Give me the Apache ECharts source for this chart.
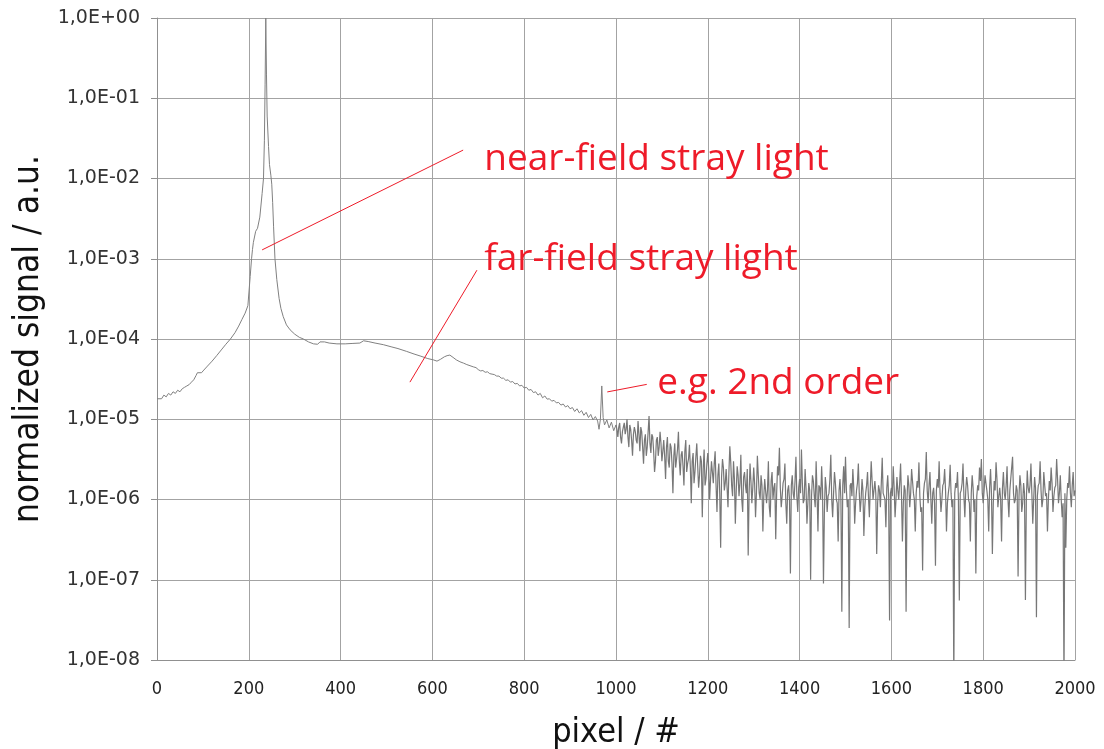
<!DOCTYPE html>
<html>
<head>
<meta charset="utf-8">
<script src="https://cdn.jsdelivr.net/npm/echarts@6/dist/echarts.min.js"></script>
<style>html,body{margin:0;padding:0;background:#fff;overflow:hidden}#c{width:1104px;height:749px}</style>
</head>
<body>
<div id="c"></div>
<script>
// ---- data: [pixel, normalized signal] ----
const nearField = [
[0,1.8e-5],[10,1.8e-5],[15,2.0e-5],[20,1.9e-5],[25,2.1e-5],[30,2.0e-5],[35,2.2e-5],[40,2.1e-5],
[45,2.3e-5],[50,2.2e-5],[55,2.4e-5],[60,2.5e-5],[65,2.6e-5],[70,2.7e-5],[75,2.9e-5],[80,3.1e-5],
[85,3.5e-5],[88,3.8e-5],[92,3.6e-5],[97,3.8e-5],[102,4.1e-5],[110,4.6e-5],[120,5.3e-5],[130,6.2e-5],
[140,7.3e-5],[150,8.6e-5],[160,1.0e-4],[170,1.2e-4],[178,1.45e-4],[185,1.75e-4],[192,2.1e-4],
[198,2.6e-4],[203,6.0e-4],[206,1.0e-3],[208,1.3e-3],[210,1.6e-3],[215,2.2e-3],[219,2.4e-3],
[224,3.3e-3],[229,6.5e-3],[232,1.0e-2],[234,3.0e-2],[235.5,1.5e-1],[237,1.0],[238.5,2.0e-1],
[240,6.0e-2],[243,2.5e-2],[245,1.5e-2],[246,1.45e-2],[248,1.1e-2],[250,8.5e-3],[252,5.0e-3],
[254,2.5e-3],[257,1.0e-3],[261,5.5e-4],[266,3.2e-4],[270,2.4e-4],[275,1.9e-4],[282,1.5e-4],
[290,1.3e-4],[300,1.15e-4],[310,1.05e-4],[319,1.0e-4],[330,9.2e-5],[341,8.7e-5],[350,8.6e-5],
[355,9.2e-5],[359,9.6e-5],[365,9.2e-5],[375,8.9e-5],[392,8.7e-5],[410,8.7e-5],[425,8.8e-5],
[442,8.9e-5],[450,9.5e-5],[460,9.3e-5],[475,8.9e-5],[493,8.5e-5],[510,8.0e-5],[525,7.6e-5],
[544,7.0e-5],[560,6.5e-5],[575,6.1e-5],[590,5.7e-5],[602,5.5e-5],[610,5.3e-5],[618,5.6e-5],
[626,6.0e-5],[632,6.2e-5],[638,6.3e-5],[645,5.9e-5],[652,5.5e-5],[660,5.2e-5],[668,5.0e-5],
[675,4.8e-5],[689,4.5e-5],[695,4.4e-5]
];
const midRange = [
[700,4.15e-5],[705,4.0e-5],[710,4.05e-5],[715,3.85e-5],[720,3.9e-5],[725,3.7e-5],[730,3.65e-5],
[735,3.6e-5],[740,3.45e-5],[745,3.45e-5],[750,3.25e-5],[755,3.25e-5],[760,3.05e-5],[765,3.1e-5],
[770,2.9e-5],[775,2.95e-5],[780,2.75e-5],[785,2.8e-5],[790,2.6e-5],[795,2.65e-5],[800,2.45e-5],
[805,2.5e-5],[810,2.3e-5],[815,2.35e-5],[820,2.15e-5],[825,2.2e-5],[830,2.0e-5],[835,2.1e-5],
[840,1.85e-5],[845,1.95e-5],[850,1.78e-5],[855,1.8e-5],[860,1.68e-5],[865,1.72e-5],[870,1.6e-5],
[875,1.62e-5],[880,1.5e-5],[885,1.55e-5],[890,1.42e-5],[895,1.48e-5],[900,1.35e-5],[905,1.4e-5],
[910,1.25e-5],[915,1.35e-5],[920,1.2e-5],[925,1.28e-5],[930,1.12e-5],[935,1.22e-5],[940,1.05e-5],
[945,1.15e-5],[950,9.8e-6],[955,1.08e-5],[960,9.5e-6],[963,7.5e-6],[966,1.0e-5],[969,2.6e-5],
[972,1.05e-5],[975,8.5e-6],[980,9.8e-6],[985,7.8e-6],[990,9.2e-6],[995,7.2e-6],[1000,8.5e-6]
];
const noiseFloorA = [
[1000,8.5e-6],
[1004,6.0e-6],[1008,9.0e-6],[1012,5.0e-6],[1016,8.0e-6],[1020,6.5e-6],[1024,1.0e-5],[1028,4.5e-6],
[1032,7.5e-6],[1036,3.5e-6],[1040,8.0e-6],[1044,5.5e-6],[1048,9.5e-6],[1052,4.0e-6],[1056,7.0e-6],
[1060,2.8e-6],[1064,6.5e-6],[1068,4.5e-6],[1072,1.1e-5],[1076,3.8e-6],[1080,6.0e-6],[1084,2.2e-6],
[1088,5.5e-6],[1092,3.5e-6],[1096,7.0e-6],
[1100,3.0e-6],[1104,5.5e-6],[1108,1.8e-6],[1112,6.0e-6],[1116,2.5e-6],[1120,4.5e-6],[1124,1.2e-6],
[1128,5.0e-6],[1132,3.2e-6],[1136,7.0e-6],[1140,2.0e-6],[1144,4.0e-6],[1148,1.5e-6],[1152,5.5e-6],
[1156,2.8e-6],[1160,4.8e-6],[1164,9.0e-7],[1168,3.8e-6],[1172,2.2e-6],[1176,5.0e-6],[1180,1.4e-6],
[1184,3.5e-6],[1188,6.0e-7],[1192,4.2e-6],[1196,1.8e-6],
[1200,3.8e-6],[1204,1.0e-6],[1208,3.0e-6],[1212,1.6e-6],[1216,4.0e-6],[1220,7.0e-7],[1224,2.8e-6],
[1228,2.5e-7],[1232,3.2e-6],[1236,1.3e-6],[1240,2.4e-6],[1244,8.0e-7],[1248,4.6e-6],[1252,1.5e-6],
[1256,3.0e-6],[1260,5.0e-7],[1264,2.6e-6],[1268,1.1e-6],[1272,3.6e-6],[1276,7.0e-7],[1280,2.2e-6],
[1284,1.2e-6],[1288,2.0e-7],[1292,2.8e-6],[1296,9.0e-7],
[1300,2.5e-6],[1304,6.0e-7],[1308,3.5e-6],[1312,1.2e-6],[1316,2.0e-6],[1320,4.0e-7],[1324,1.8e-6],
[1328,9.0e-7],[1332,3.0e-6],[1336,6.0e-7],[1340,2.2e-6],[1344,1.4e-6],[1348,3.2e-7],[1352,2.6e-6],
[1356,4.4e-6],[1360,8.0e-7],[1364,1.6e-6],[1368,2.8e-6],[1372,5.0e-7],[1376,1.5e-6],[1380,1.2e-7],
[1384,2.0e-6],[1388,1.0e-6],[1392,3.4e-6],[1396,7.0e-7],
[1400,1.8e-6],[1404,4.2e-6],[1408,9.0e-7],[1412,2.4e-6],[1416,5.0e-7],[1420,1.6e-6],[1424,1.0e-7],
[1428,2.0e-6],[1432,1.1e-6],[1436,3.0e-6],[1440,4.0e-7],[1444,1.4e-6],[1448,2.6e-6],[1452,9.0e-8],
[1456,1.9e-6],[1460,7.0e-7],[1464,1.2e-6],[1468,3.6e-6],[1472,6.0e-7],[1476,2.2e-6],[1480,1.0e-6],
[1484,3.0e-7],[1488,1.8e-6],[1492,4.0e-8],[1496,2.6e-6],
[1500,3.4e-6],[1504,8.0e-7],[1508,2.5e-8],[1512,1.6e-6],[1516,2.4e-6],[1520,5.0e-7],[1524,1.3e-6],
[1528,2.8e-6],[1532,7.0e-7],[1536,1.8e-6],[1540,3.5e-7],[1544,1.2e-6],[1548,2.2e-6],[1552,6.0e-7],
[1556,3.0e-6],[1560,1.0e-6],[1564,1.7e-6],[1568,2.1e-7],[1572,1.5e-6],[1576,8.0e-7],[1580,3.3e-6],
[1584,1.1e-6],[1588,4.5e-7],[1592,2.0e-6],[1596,3.1e-8],
[1600,1.4e-6],[1604,2.6e-6],[1608,6.0e-7],[1612,1.9e-6],[1616,1.0e-6],[1620,2.8e-6],[1624,3.0e-7],
[1628,1.5e-6],[1632,4.0e-8],[1636,2.0e-6],[1640,8.0e-7],[1644,2.4e-6],[1648,1.2e-6],[1652,4.0e-7],
[1656,1.7e-6],[1660,2.9e-6],[1664,7.0e-7],[1668,1.3e-7],[1672,1.6e-6],[1676,3.9e-6],[1680,9.0e-7],
[1684,2.2e-6],[1688,5.0e-7],[1692,1.4e-6],[1696,1.5e-7],
[1700,1.8e-6],[1704,3.0e-6],[1708,7.0e-7],[1712,1.5e-6],[1716,2.4e-6],[1720,4.0e-7],[1724,1.2e-6],
[1728,2.7e-6],[1732,8.0e-7],[1736,5.0e-9],[1740,1.6e-6],[1744,2.2e-6],[1748,5.5e-8],[1752,1.3e-6],
[1756,2.8e-6],[1760,6.0e-7],[1764,1.9e-6],[1768,1.0e-6],[1772,3.0e-7],[1776,2.0e-6],[1780,7.0e-7],
[1784,1.2e-7],[1788,1.5e-6],[1792,2.5e-6],[1796,3.2e-6],
[1800,9.0e-7],[1804,2.0e-6],[1808,1.3e-6],[1812,4.0e-7],[1816,2.4e-6],[1820,2.1e-7],[1824,1.7e-6],
[1828,2.9e-6],[1832,8.0e-7],[1836,1.4e-6],[1840,3.0e-7],[1844,2.2e-6],[1848,1.0e-6],[1852,2.6e-6],
[1856,6.0e-7],[1860,1.8e-6],[1864,3.4e-6],[1868,9.0e-7],[1872,1.5e-6],[1876,1.1e-7],[1880,2.0e-6],
[1884,7.0e-7],[1888,1.6e-6],[1892,5.6e-8],[1896,2.3e-6],
[1900,1.2e-6],[1904,2.8e-6],[1908,5.0e-7],[1912,1.9e-6],[1916,3.4e-8],[1920,1.5e-6],[1924,3.0e-6],
[1928,8.0e-7],[1932,2.2e-6],[1936,1.1e-6],[1940,4.0e-7],[1944,1.7e-6],[1948,2.5e-6],[1952,7.0e-7],
[1956,1.4e-6],[1960,3.2e-6],[1964,9.0e-7],[1968,2.0e-6],[1972,6.0e-7],[1976,5.0e-9],[1980,2.5e-7],
[1984,1.6e-6],[1988,2.6e-6],[1992,8.0e-7],[1996,2.2e-6],[2000,1.3e-6]
];
const noiseFloorB = [
[1002,7.5e-6],[1006,8.0e-6],[1010,6.0e-6],[1014,7.0e-6],[1018,9.0e-6],[1022,7.5e-6],[1026,6.0e-6],
[1030,8.5e-6],[1034,5.5e-6],[1038,6.5e-6],[1042,7.0e-6],[1046,5.0e-6],[1050,6.5e-6],[1054,8.0e-6],
[1058,4.5e-6],[1062,5.5e-6],[1066,3.5e-6],[1070,7.0e-6],[1074,5.0e-6],[1078,6.5e-6],[1082,4.0e-6],
[1086,3.0e-6],[1090,6.0e-6],[1094,4.5e-6],[1098,5.0e-6],
[1102,4.0e-6],[1106,3.5e-6],[1110,4.5e-6],[1114,3.0e-6],[1118,5.0e-6],[1122,2.8e-6],[1126,3.5e-6],
[1130,2.5e-6],[1134,4.2e-6],[1138,3.0e-6],[1142,3.6e-6],[1146,2.6e-6],[1150,4.0e-6],[1154,2.2e-6],
[1158,3.2e-6],[1162,2.5e-6],[1166,3.0e-6],[1170,1.6e-6],[1174,3.4e-6],[1178,2.6e-6],[1182,2.0e-6],
[1186,3.0e-6],[1190,2.4e-6],[1194,1.5e-6],[1198,2.8e-6],
[1202,2.4e-6],[1206,1.8e-6],[1210,2.2e-6],[1214,2.8e-6],[1218,1.5e-6],[1222,2.0e-6],[1226,1.2e-6],
[1230,1.9e-6],[1234,2.5e-6],[1238,1.6e-6],[1242,1.4e-6],[1246,2.2e-6],[1250,2.9e-6],[1254,1.1e-6],
[1258,1.8e-6],[1262,1.3e-6],[1266,2.0e-6],[1270,1.6e-6],[1274,1.0e-6],[1278,1.9e-6],[1282,1.5e-6],
[1286,2.4e-6],[1290,1.2e-6],[1294,1.7e-6],[1298,1.4e-6],
[1302,1.6e-6],[1306,1.2e-6],[1310,2.0e-6],[1314,1.0e-6],[1318,1.5e-6],[1322,1.1e-6],[1326,1.9e-6],
[1330,1.3e-6],[1334,8.0e-7],[1338,1.7e-6],[1342,1.0e-6],[1346,1.6e-6],[1350,1.2e-6],[1354,2.0e-6],
[1358,1.4e-6],[1362,1.1e-6],[1366,1.8e-6],[1370,9.0e-7],[1374,1.3e-6],[1378,1.0e-6],[1382,1.5e-6],
[1386,1.2e-6],[1390,1.7e-6],[1394,1.1e-6],[1398,1.4e-6],
[1402,1.2e-6],[1406,1.6e-6],[1410,1.0e-6],[1414,1.4e-6],[1418,9.0e-7],[1422,1.3e-6],[1426,1.1e-6],
[1430,1.7e-6],[1434,8.0e-7],[1438,1.2e-6],[1442,1.5e-6],[1446,1.0e-6],[1450,1.3e-6],[1454,7.0e-7],
[1458,1.4e-6],[1462,1.1e-6],[1466,1.8e-6],[1470,1.0e-6],[1474,1.2e-6],[1478,1.6e-6],[1482,9.0e-7],
[1486,1.3e-6],[1490,1.0e-6],[1494,1.5e-6],[1498,1.2e-6],
[1502,1.3e-6],[1506,1.0e-6],[1510,1.5e-6],[1514,1.1e-6],[1518,1.4e-6],[1522,9.0e-7],[1526,1.6e-6],
[1530,1.2e-6],[1534,1.0e-6],[1538,1.3e-6],[1542,8.0e-7],[1546,1.5e-6],[1550,1.1e-6],[1554,1.4e-6],
[1558,1.7e-6],[1562,1.0e-6],[1566,1.2e-6],[1570,9.0e-7],[1574,1.3e-6],[1578,1.6e-6],[1582,1.2e-6],
[1586,1.0e-6],[1590,1.4e-6],[1594,1.1e-6],[1598,1.2e-6],
[1602,1.1e-6],[1606,1.4e-6],[1610,1.0e-6],[1614,1.3e-6],[1618,1.6e-6],[1622,1.1e-6],[1626,9.0e-7],
[1630,1.3e-6],[1634,1.0e-6],[1638,1.5e-6],[1642,1.2e-6],[1646,1.7e-6],[1650,1.0e-6],[1654,1.2e-6],
[1658,1.4e-6],[1662,1.1e-6],[1666,8.0e-7],[1670,1.2e-6],[1674,1.8e-6],[1678,1.3e-6],[1682,1.5e-6],
[1686,1.0e-6],[1690,1.2e-6],[1694,9.0e-7],[1698,1.3e-6],
[1702,1.4e-6],[1706,1.2e-6],[1710,1.0e-6],[1714,1.6e-6],[1718,1.3e-6],[1722,9.0e-7],[1726,1.5e-6],
[1730,1.2e-6],[1734,1.0e-6],[1738,1.2e-6],[1742,1.4e-6],[1746,1.0e-6],[1750,1.2e-6],[1754,1.6e-6],
[1758,1.1e-6],[1762,1.3e-6],[1766,1.5e-6],[1770,9.0e-7],[1774,1.2e-6],[1778,1.4e-6],[1782,1.0e-6],
[1786,1.1e-6],[1790,1.3e-6],[1794,1.7e-6],[1798,1.2e-6],
[1802,1.3e-6],[1806,1.6e-6],[1810,1.0e-6],[1814,1.4e-6],[1818,1.2e-6],[1822,9.0e-7],[1826,1.3e-6],
[1830,1.8e-6],[1834,1.1e-6],[1838,1.0e-6],[1842,1.4e-6],[1846,1.2e-6],[1850,1.5e-6],[1854,1.0e-6],
[1858,1.3e-6],[1862,1.7e-6],[1866,1.2e-6],[1870,1.0e-6],[1874,1.3e-6],[1878,1.1e-6],[1882,1.5e-6],
[1886,9.0e-7],[1890,1.2e-6],[1894,1.0e-6],[1898,1.4e-6],
[1902,1.5e-6],[1906,1.2e-6],[1910,1.0e-6],[1914,1.4e-6],[1918,1.1e-6],[1922,1.6e-6],[1926,1.3e-6],
[1930,1.0e-6],[1934,1.5e-6],[1938,1.2e-6],[1942,1.0e-6],[1946,1.3e-6],[1950,1.6e-6],[1954,1.1e-6],
[1958,1.5e-6],[1962,1.8e-6],[1966,1.2e-6],[1970,1.0e-6],[1974,9.0e-7],[1978,1.2e-6],[1982,1.0e-6],
[1986,1.4e-6],[1990,1.2e-6],[1994,1.5e-6],[1998,1.1e-6]
];
const xTicks = [0,200,400,600,800,1000,1200,1400,1600,1800,2000];
const yMin = 1e-8, yMax = 1;

// annotations: leader lines (data coordinates) and texts
const annotationTexts = ['near-field stray light','far-field stray light','e.g. 2nd order'];
const leaderLines = [
  [[229,1.29e-3],[667,2.26e-2]],
  [[551,2.9e-5],[697,7.2e-4]],
  [[981,2.19e-5],[1067,2.72e-5]]
];
const textAnchors = [[713,1.75e-2],[713,9.9e-4],[1090,2.83e-5]];

const noiseFloor = noiseFloorA.concat(noiseFloorB).sort((a,b)=>a[0]-b[0]);
const chart = echarts.init(document.getElementById('c'), null, {renderer:'canvas'});
const red = '#ee1b29';
const narrow = "'DejaVu Sans Condensed','Liberation Sans Narrow',Roboto,sans-serif";
const yFmt = v => {
  const e = Math.round(Math.log10(v));
  const a = Math.abs(e);
  return '1,0E' + (e >= 0 ? '+' : '-') + (a < 10 ? '0' : '') + a;
};
const option = {
  animation:false,
  backgroundColor:'#fff',
  grid:{left:157,right:29,top:18,bottom:89,containLabel:false,outerBoundsMode:'none'},
  xAxis:{
    type:'value',min:0,max:2000,interval:200,
    name:'pixel / #',nameLocation:'middle',nameGap:56,
    nameTextStyle:{fontFamily:narrow,fontSize:34,color:'#111'},
    axisLine:{show:true,lineStyle:{color:'#909090',width:1}},
    axisTick:{show:false},
    axisLabel:{fontFamily:narrow,fontSize:18,color:'#222',margin:20,
      formatter:v=> xTicks.includes(v) ? String(v) : ''},
    splitLine:{show:true,lineStyle:{color:'#a3a3a3',width:1}}
  },
  yAxis:{
    type:'log',logBase:10,min:yMin,max:yMax,splitNumber:8,
    name:'normalized signal / a.u.',nameLocation:'middle',nameGap:101,nameRotate:90,
    nameTextStyle:{fontFamily:narrow,fontSize:35,color:'#111'},
    axisLine:{show:true,lineStyle:{color:'#909090',width:1}},
    axisTick:{show:true,inside:false,length:6,lineStyle:{color:'#909090'}},
    axisLabel:{fontFamily:'DejaVu Sans',fontSize:19,color:'#333',margin:17,formatter:yFmt},
    splitLine:{show:true,lineStyle:{color:'#a3a3a3',width:1}}
  },
  series:[{
    type:'line',
    data: nearField.concat(midRange),
    showSymbol:false,symbol:'none',sampling:false,
    lineStyle:{color:'#808080',width:1},
    clip:true,
    markLine:{
      silent:true,symbol:['none','none'],animation:false,
      lineStyle:{color:red,width:1,type:'solid'},
      label:{show:false},
      data: leaderLines.map(l=>[{coord:l[0]},{coord:l[1]}])
    },
    markPoint:{
      silent:true,symbol:'circle',symbolSize:0,animation:false,
      label:{show:true,position:'right',distance:0,color:red,fontFamily:'Open Sans',fontSize:37,
        formatter:p=>p.name},
      data: textAnchors.map((c,i)=>({name:annotationTexts[i],coord:c}))
    }
  },{
    type:'line',
    data: noiseFloor,
    showSymbol:false,symbol:'none',sampling:false,
    lineStyle:{color:'#777777',width:1.2},
    clip:true
  }]
};
chart.setOption(option);
</script>
</body>
</html>
